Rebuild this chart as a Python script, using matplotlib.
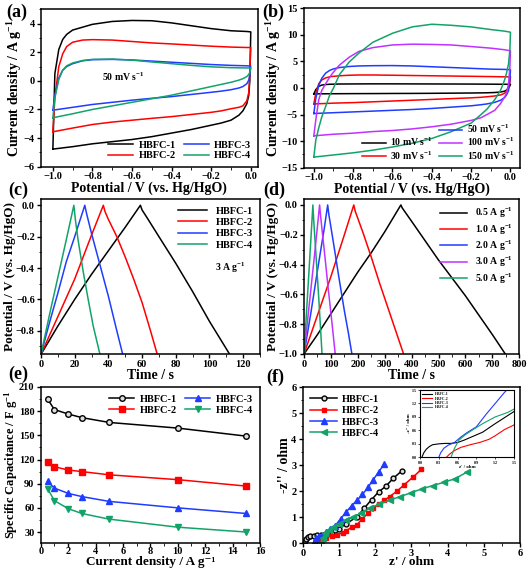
import matplotlib
matplotlib.use("Agg")
import matplotlib.pyplot as plt
from matplotlib.lines import Line2D
from matplotlib.ticker import AutoMinorLocator, MultipleLocator

# ---- (a) CV of HBFC-1..4 at 50 mV/s ----
A_E_UP = [-1.0, -0.99, -0.97, -0.95, -0.93, -0.90, -0.85, -0.80, -0.70, -0.60,
          -0.50, -0.40, -0.30, -0.20, -0.10, -0.02, 0.0]
A_E_DN = [0.0, -0.005, -0.01, -0.02, -0.04, -0.06, -0.10, -0.15, -0.20, -0.30,
          -0.40, -0.50, -0.60, -0.70, -0.80, -0.90, -1.0]
A_LABELS = ["HBFC-1", "HBFC-2", "HBFC-3", "HBFC-4"]
A_UP = [
    [-4.77, 0.5, 2.2, 2.9, 3.25, 3.55, 3.75, 3.95, 4.15, 4.22, 4.2, 4.05, 3.85, 3.65, 3.5, 3.45, 3.42],
    [-3.56, -1.2, 1.0, 1.9, 2.4, 2.7, 2.85, 2.88, 2.85, 2.75, 2.65, 2.58, 2.5, 2.42, 2.36, 2.33, 2.33],
    [-2.05, -1.0, 0.2, 0.75, 1.0, 1.2, 1.4, 1.48, 1.5, 1.46, 1.38, 1.3, 1.22, 1.14, 1.08, 1.05, 1.03],
    [-2.58, -1.2, 0.1, 0.75, 1.05, 1.25, 1.42, 1.5, 1.52, 1.45, 1.32, 1.2, 1.08, 0.98, 0.92, 0.9, 0.9],
]
A_DN = [
    [3.42, 0.0, -1.0, -1.6, -2.1, -2.4, -2.75, -2.95, -3.1, -3.4, -3.65, -3.9, -4.1, -4.25, -4.4, -4.6, -4.77],
    [2.33, 0.5, -0.8, -1.4, -1.75, -1.85, -1.95, -2.1, -2.2, -2.35, -2.5, -2.62, -2.75, -2.88, -3.05, -3.3, -3.56],
    [1.03, 0.4, 0.05, -0.2, -0.4, -0.5, -0.62, -0.72, -0.8, -0.95, -1.1, -1.22, -1.35, -1.5, -1.65, -1.85, -2.05],
    [0.9, 0.6, 0.45, 0.3, 0.15, 0.05, -0.1, -0.25, -0.4, -0.7, -1.0, -1.25, -1.5, -1.75, -2.0, -2.3, -2.58],
]

# ---- (b) CV at several scan rates ----
B_E_UP = [-1.0, -0.99, -0.975, -0.96, -0.94, -0.92, -0.90, -0.87, -0.82, -0.77,
          -0.70, -0.60, -0.50, -0.40, -0.30, -0.20, -0.10, -0.03, 0.0]
B_E_DN = [0.0, -0.003, -0.01, -0.02, -0.03, -0.05, -0.08, -0.12, -0.15, -0.20,
          -0.30, -0.40, -0.50, -0.60, -0.70, -0.80, -0.90, -1.0]
B_RATES = ["10", "30", "50", "100", "150"]
B_UP = [
    [-1.1, -0.3, 0.3, 0.55, 0.65, 0.7, 0.72, 0.75, 0.76, 0.77, 0.78, 0.78, 0.77, 0.76, 0.75, 0.74, 0.72, 0.7, 0.7],
    [-3.0, -1.0, 0.8, 1.5, 1.9, 2.1, 2.2, 2.3, 2.4, 2.45, 2.45, 2.4, 2.35, 2.3, 2.25, 2.2, 2.15, 2.1, 2.1],
    [-4.8, -2.0, 0.5, 1.8, 2.8, 3.3, 3.6, 3.85, 4.05, 4.15, 4.2, 4.22, 4.15, 4.0, 3.85, 3.7, 3.55, 3.5, 3.45],
    [-9.0, -6.0, -2.2, -0.5, 0.8, 2.0, 3.0, 4.3, 5.8, 6.9, 7.6, 8.1, 8.25, 8.2, 8.1, 7.8, 7.5, 7.2, 7.0],
    [-13.0, -9.8, -7.5, -5.5, -3.5, -1.4, 0.0, 2.5, 4.9, 6.6, 8.6, 10.3, 11.5, 12.0, 11.8, 11.5, 11.0, 10.7, 10.5],
]
B_DN = [
    [0.7, 0.4, 0.0, -0.4, -0.6, -0.75, -0.85, -0.9, -0.92, -0.94, -0.97, -1.0, -1.02, -1.03, -1.05, -1.06, -1.08, -1.1],
    [2.1, 1.0, 0.0, -0.6, -1.0, -1.3, -1.5, -1.65, -1.75, -1.85, -2.0, -2.15, -2.3, -2.45, -2.6, -2.75, -2.85, -3.0],
    [3.45, 1.5, -0.5, -1.3, -1.8, -2.3, -2.7, -3.0, -3.15, -3.35, -3.6, -3.85, -4.05, -4.2, -4.35, -4.5, -4.65, -4.8],
    [7.0, 4.0, 0.8, -1.0, -1.7, -2.9, -4.2, -5.0, -5.6, -6.1, -6.8, -7.3, -7.7, -8.0, -8.2, -8.5, -8.7, -9.0],
    [10.5, 7.2, 4.5, 2.8, 1.5, -0.4, -2.2, -4.0, -5.0, -6.6, -8.2, -9.5, -10.4, -11.1, -11.7, -12.2, -12.6, -13.0],
]

# ---- (c) GCD of HBFC-1..4 at 3 A/g ----
C_T = [
    [0, 10, 20, 30, 40, 50, 59, 60, 63, 70, 80, 90, 100, 112],
    [0, 10, 20, 30, 37, 38, 40, 45, 50, 55, 60, 65, 69],
    [0, 5, 10, 15, 20, 26, 27, 30, 35, 40, 45, 48.5],
    [0, 5, 10, 15, 19.5, 20.5, 22, 25, 28, 31, 35],
]
C_V = [
    [-0.95, -0.77, -0.6, -0.44, -0.29, -0.14, 0.0, -0.03, -0.08, -0.2, -0.37, -0.55, -0.74, -0.95],
    [-0.95, -0.71, -0.47, -0.19, 0.0, -0.04, -0.09, -0.2, -0.33, -0.47, -0.62, -0.8, -0.95],
    [-0.95, -0.75, -0.56, -0.36, -0.2, 0.0, -0.05, -0.18, -0.38, -0.58, -0.8, -0.95],
    [-0.95, -0.7, -0.46, -0.22, 0.0, -0.1, -0.22, -0.42, -0.6, -0.77, -0.95],
]

# ---- (d) GCD at several current densities ----
D_LABELS = ["0.5", "1.0", "2.0", "3.0", "5.0"]
D_T = [
    [0, 50, 100, 150, 200, 250, 300, 360, 365, 400, 450, 500, 550, 600, 650, 700, 748],
    [0, 50, 100, 150, 185, 190, 220, 250, 280, 310, 340, 370],
    [0, 25, 50, 75, 88, 92, 110, 130, 150, 165, 178],
    [0, 20, 40, 58, 62, 75, 90, 105, 116],
    [0, 10, 20, 33, 36, 45, 55, 67],
]
D_V = [
    [-1.0, -0.87, -0.73, -0.59, -0.45, -0.32, -0.18, 0.0, -0.02, -0.11, -0.24, -0.37, -0.49, -0.61, -0.74, -0.87, -1.0],
    [-1.0, -0.74, -0.48, -0.2, 0.0, -0.04, -0.19, -0.35, -0.52, -0.68, -0.84, -1.0],
    [-1.0, -0.73, -0.44, -0.16, 0.0, -0.06, -0.26, -0.49, -0.71, -0.86, -1.0],
    [-1.0, -0.66, -0.32, 0.0, -0.08, -0.3, -0.56, -0.81, -1.0],
    [-1.0, -0.7, -0.4, 0.0, -0.1, -0.35, -0.63, -1.0],
]

# ---- (e) rate capability ----
E_J = [0.5, 1, 2, 3, 5, 10, 15]
E_C = [
    [195, 182, 176.5, 172, 166, 159, 149],
    [117, 111, 107, 105, 101, 95, 87],
    [93, 84.5, 78, 74, 68, 60, 53],
    [84, 69, 59, 53, 46, 36, 30],
]

# ---- (f) Nyquist plots ----
F_ZRE = [
    [0.03, 0.06, 0.1, 0.15, 0.2, 0.3, 0.4, 0.5, 0.6, 0.7, 0.8, 0.9, 1.0, 1.2, 1.5, 1.7, 1.9, 2.1, 2.3, 2.5, 2.75],
    [0.42, 0.48, 0.55, 0.65, 0.8, 0.95, 1.1, 1.2, 1.35, 1.5, 1.65, 1.8, 1.95, 2.1, 2.25, 2.4, 2.6, 2.8, 3.05, 3.28],
    [0.3, 0.33, 0.38, 0.45, 0.55, 0.65, 0.75, 0.9, 1.05, 1.2, 1.35, 1.5, 1.65, 1.8, 1.95, 2.1, 2.25],
    [0.5, 0.55, 0.62, 0.72, 0.85, 1.0, 1.2, 1.4, 1.6, 1.85, 2.1, 2.4, 2.7, 3.0, 3.3, 3.6, 3.9, 4.2, 4.55],
]
F_ZIM = [
    [0.0, 0.1, 0.18, 0.24, 0.28, 0.3, 0.31, 0.31, 0.33, 0.38, 0.44, 0.5, 0.56, 0.75, 1.02, 1.35, 1.68, 1.98, 2.2, 2.5, 2.8],
    [0.0, 0.08, 0.15, 0.22, 0.28, 0.33, 0.4, 0.48, 0.62, 0.72, 0.95, 1.15, 1.35, 1.5, 1.65, 1.8, 2.0, 2.25, 2.55, 2.85],
    [0.0, 0.1, 0.2, 0.27, 0.33, 0.45, 0.55, 0.68, 0.95, 1.2, 1.45, 1.65, 1.88, 2.15, 2.45, 2.75, 3.05],
    [0.02, 0.2, 0.38, 0.5, 0.62, 0.75, 0.9, 1.0, 1.15, 1.35, 1.5, 1.66, 1.8, 1.95, 2.1, 2.22, 2.35, 2.48, 2.75],
]

COLORS4 = ["black", "red", "#1f3cff", "#13a36a"]
COLORS5 = ["black", "red", "#1f3cff", "#c032ff", "#13a36a"]

plt.rcParams.update({
    "font.family": ["Liberation Serif", "DejaVu Serif"],
    "font.weight": "bold",
    "axes.labelweight": "bold",
    "mathtext.fontset": "custom",
    "mathtext.rm": "Liberation Serif:bold",
    "mathtext.it": "Liberation Serif:bold",
    "mathtext.bf": "Liberation Serif:bold",
    "axes.linewidth": 1.1,
    "xtick.labelsize": 7.5,
    "ytick.labelsize": 7.5,
    "xtick.major.size": 3,
    "ytick.major.size": 3,
    "xtick.minor.size": 1.8,
    "ytick.minor.size": 1.8,
    "xtick.major.width": 1.0,
    "ytick.major.width": 1.0,
    "legend.fontsize": 7.5,
})

W, H = 529, 571
fig = plt.figure(figsize=(W / 100, H / 100), dpi=100)


def add_ax(left, right, top, bottom):
    return fig.add_axes([left / W, 1 - bottom / H, (right - left) / W, (bottom - top) / H])


def style(ax):
    ax.xaxis.set_minor_locator(AutoMinorLocator(2))
    ax.yaxis.set_minor_locator(AutoMinorLocator(2))
    ax.tick_params(which="both", direction="out")
    ax.tick_params(axis="x", pad=1)
    ax.tick_params(axis="y", pad=1.5)
    for lab in ax.get_xticklabels() + ax.get_yticklabels():
        lab.set_fontweight("bold")


def closed(e_up, e_dn, i_up, i_dn):
    xs = list(e_up) + list(e_dn) + [e_up[0]]
    ys = list(i_up) + list(i_dn) + [i_up[0]]
    return xs, ys


label_kw = dict(fontsize=10, fontweight="bold")
pot_label = "Potential / V (vs. Hg/HgO)"

# (a)
ax = add_ax(41, 257.7, 9.3, 166.7)
for lab, c, up, dn in zip(A_LABELS, COLORS4, A_UP, A_DN):
    xs, ys = closed(A_E_UP, A_E_DN, up, dn)
    ax.plot(xs, ys, color=c, lw=1.1, label=lab)
ax.set_xlim(-1.06, 0.035)
ax.set_ylim(-6, 5)
ax.yaxis.set_major_locator(MultipleLocator(2))
ax.xaxis.set_major_locator(MultipleLocator(0.2))
ax.text(-0.75, 0.0, r"50 mV s$^{-1}$", fontsize=7, fontweight="bold")
ax.legend(loc="lower right", ncol=2, frameon=False, handlelength=2.4,
          columnspacing=0.8, labelspacing=0.1, borderaxespad=0.2, handletextpad=0.5)
ax.set_xlabel(pot_label, labelpad=0, **label_kw)
ax.set_ylabel("Current density / A g$^{-1}$", labelpad=0, **label_kw)
style(ax)

# (b)
ax = add_ax(304, 520.3, 8.3, 167.7)
handles = [Line2D([], [], color="none")]
labels = [""]
for r, c, up, dn in zip(B_RATES, COLORS5, B_UP, B_DN):
    xs, ys = closed(B_E_UP, B_E_DN, up, dn)
    ln, = ax.plot(xs, ys, color=c, lw=1.1)
    handles.append(ln)
    labels.append(r"%s mV s$^{-1}$" % r)
ax.set_xlim(-1.05, 0.05)
ax.set_ylim(-15, 15)
ax.yaxis.set_major_locator(MultipleLocator(5))
ax.xaxis.set_major_locator(MultipleLocator(0.2))
ax.legend(handles, labels, loc="lower right", ncol=2, frameon=False, handlelength=2.4,
          columnspacing=0.6, labelspacing=0.1, borderaxespad=0.2, handletextpad=0.5,
          fontsize=7)
ax.set_xlabel(pot_label, labelpad=0, **label_kw)
ax.set_ylabel("Current density / A g$^{-1}$", labelpad=-1, **label_kw)
style(ax)

# (c)
ax = add_ax(41, 260, 199, 354.3)
for lab, c, t, v in zip(A_LABELS, COLORS4, C_T, C_V):
    ax.plot(t, v, color=c, lw=1.1, label=lab)
ax.set_xlim(0, 130)
ax.set_ylim(-0.95, 0.04)
ax.xaxis.set_major_locator(MultipleLocator(20))
ax.yaxis.set_major_locator(MultipleLocator(0.2))
ax.text(103, -0.42, r"3 A g$^{-1}$", fontsize=7, fontweight="bold")
ax.legend(loc="upper right", frameon=False, handlelength=2.8,
          labelspacing=0.2, borderaxespad=0.3, handletextpad=0.8)
ax.set_xlabel("Time / s", labelpad=0, **label_kw)
ax.set_ylabel(pot_label, labelpad=0, fontsize=9.5, fontweight="bold")
style(ax)

# (d)
ax = add_ax(304, 519.3, 199, 354)
for lab, c, t, v in zip(D_LABELS, COLORS5, D_T, D_V):
    ax.plot(t, v, color=c, lw=1.1, label=r"%s A g$^{-1}$" % lab)
ax.set_xlim(0, 800)
ax.set_ylim(-1.0, 0.04)
ax.xaxis.set_major_locator(MultipleLocator(100))
ax.yaxis.set_major_locator(MultipleLocator(0.2))
ax.legend(loc="upper right", frameon=False, handlelength=2.8, fontsize=7,
          labelspacing=0.2, borderaxespad=0.3, handletextpad=0.8)
ax.set_xlabel("Time / s", labelpad=0, **label_kw)
ax.set_ylabel(pot_label, labelpad=0, fontsize=9.5, fontweight="bold")
style(ax)

# (e)
ax = add_ax(40.7, 260, 387, 542.5)
e_markers = [dict(marker="o", mfc="#dddddd", mec="black"),
             dict(marker="s"), dict(marker="^"), dict(marker="v")]
for lab, c, cap, mk in zip(A_LABELS, COLORS4, E_C, e_markers):
    ax.plot(E_J, cap, color=c, lw=1.1, ms=4, label=lab, **mk)
ax.set_xlim(0, 16)
ax.set_ylim(17, 210)
ax.xaxis.set_major_locator(MultipleLocator(2))
ax.yaxis.set_major_locator(MultipleLocator(30))
ax.legend(loc="upper right", ncol=2, frameon=False, handlelength=2.4,
          columnspacing=0.8, labelspacing=0.2, borderaxespad=0.3, handletextpad=0.5)
ax.set_xlabel("Current density / A g\u207b\u00b9", labelpad=-0.5, fontsize=9.5, fontweight="bold")
ax.set_ylabel("Specific Capacitance / F g$^{-1}$", labelpad=-1, fontsize=9, fontweight="bold")
style(ax)
ax.tick_params(axis="x", pad=0.5)

# (f)
ax = add_ax(302.7, 520, 387.3, 543.3)
f_markers = [dict(marker="o", mfc="#dddddd", mec="black", ms=3.5),
             dict(marker="s", ms=3.5), dict(marker="^", ms=4), dict(marker="<", ms=4)]
for lab, c, zr, zi, mk in zip(A_LABELS, COLORS4, F_ZRE, F_ZIM, f_markers):
    ax.plot(zr, zi, color=c, lw=1.1, label=lab, **mk)
ax.set_xlim(0, 6)
ax.set_ylim(0, 6)
ax.xaxis.set_major_locator(MultipleLocator(1))
ax.yaxis.set_major_locator(MultipleLocator(1))
ax.legend(loc="upper left", frameon=False, handlelength=2.6,
          labelspacing=0.2, borderaxespad=0.3, handletextpad=0.5)
ax.set_xlabel("z' / ohm", labelpad=-1, fontsize=9.5, fontweight="bold")
ax.set_ylabel("-z'' / ohm", labelpad=0, **label_kw)
style(ax)

# inset of (f)
axi = add_ax(420, 514, 390, 457.3)
for lab, c, zr, zi in zip(A_LABELS, COLORS4, F_ZRE, F_ZIM):
    axi.plot(zr, zi, color=c, lw=0.8, label=lab)
axi.set_xlim(0, 1.5)
axi.set_ylim(0, 1.5)
axi.xaxis.set_major_locator(MultipleLocator(0.3))
axi.yaxis.set_major_locator(MultipleLocator(0.3))
axi.tick_params(labelsize=3, length=1.5, width=0.5, pad=1)
axi.set_xlabel("z' / ohm", fontsize=3.5, labelpad=0)
axi.set_ylabel("-z'' / ohm", fontsize=3.5, labelpad=0)
axi.legend(loc="upper left", frameon=False, fontsize=2.8, handlelength=2.5,
           labelspacing=0.1, borderaxespad=0.2)
for s in axi.spines.values():
    s.set_linewidth(0.8)

# panel letters
for txt, x, y in [("(a)", 6, 12), ("(b)", 262, 12), ("(c)", 8, 190),
                  ("(d)", 263, 190), ("(e)", 8, 374), ("(f)", 266, 377)]:
    fig.text(x / W, 1 - y / H, txt, fontsize=13, fontweight="bold", ha="left", va="center")

fig.savefig("out.png", dpi=100)
